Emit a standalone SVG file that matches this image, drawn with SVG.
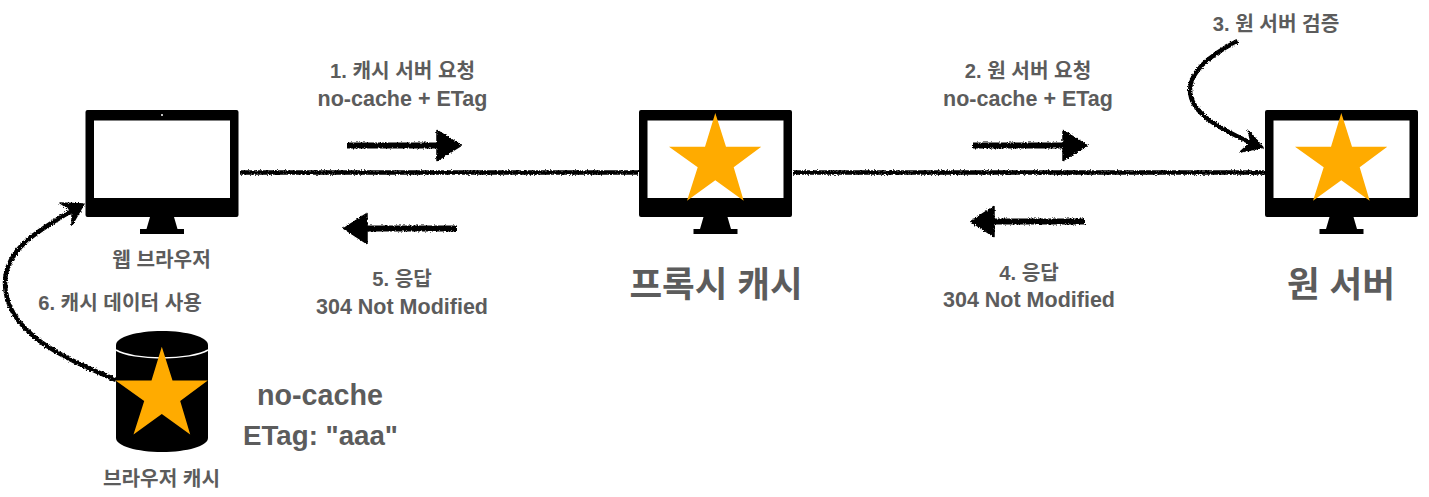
<svg xmlns="http://www.w3.org/2000/svg" width="1429" height="497" viewBox="0 0 1429 497">
<style>
text{font-family:"Liberation Sans","Noto Sans CJK KR",sans-serif;font-weight:700;fill:#5c5c5c;text-anchor:middle}
.s{font-size:20.200px}.m{font-size:21.500px}.l{font-size:28.700px}.xl{font-size:35.500px}
.ln{fill:none;stroke:#000;stroke-width:4.500}
.ar{fill:none;stroke:#000;stroke-width:6}
.cv{fill:none;stroke:#000;stroke-width:4.500}
.hd{fill:#000;stroke:#000;stroke-width:1.500;stroke-linejoin:round}
.st{fill:#ffab00}
</style>
<defs>
<filter id="roughU" filterUnits="userSpaceOnUse" x="0" y="0" width="1429" height="497">
<feTurbulence type="fractalNoise" baseFrequency="0.7" numOctaves="2" seed="3"/>
<feDisplacementMap in="SourceGraphic" scale="3.500" xChannelSelector="R" yChannelSelector="G"/>
</filter>
<g id="monitor">
<path d="M85.500 112a2 2 0 0 1 2-2h149a2 2 0 0 1 2 2v103a2 2 0 0 1-2 2h-149a2 2 0 0 1-2-2zM94 120.500V198H230V120.500z" fill="#000" fill-rule="evenodd"/>
<path d="M150 217h24l3.500 12H184v5H140v-5h6.500z" fill="#000"/>
</g>
<polygon id="star" class="st" points="715.300,113 726,146.700 761.300,146.700 733.700,167.300 743.700,200.700 715.300,180.300 687,200.700 697.700,167.300 669,146.700 705,146.700"/>
</defs>
<g id="connectors" filter="url(#roughU)">
<path class="ln" d="M240 172.500H639"/>
<path class="ln" d="M793 172.500H1265"/>
<path class="ar" d="M347 145.500H440"/><polygon class="hd" points="437,130.500 461,145.500 437,160.500"/>
<path class="ar" d="M457 228.500H364"/><polygon class="hd" points="367,213.500 344,228.500 367,243.500"/>
<path class="ar" d="M973 145.500H1066"/><polygon class="hd" points="1063,130.500 1087,145.500 1063,160.500"/>
<path class="ar" d="M1085 221.500H992"/><polygon class="hd" points="994,206.500 971,221.500 994,236.500"/>
<path class="cv" d="M1237.500 41C1208 56 1190 72 1190 90C1190 114 1222 130 1258 146"/><polygon class="hd" points="1263,147.500 1248,130 1251,142 1240,152"/>
<path class="cv" d="M116 380C70 360 5 335 5 283C5 250 35 232 78 207"/><polygon class="hd" points="84,204 60,203 72,211 72,225"/>
</g>
<g id="browser">
<use href="#monitor"/><circle cx="162" cy="115" r="1" fill="#fff"/>
<text class="s" x="161.500" y="267">웹 브라우저</text>
</g>
<g id="proxy">
<use href="#monitor" x="553.500"/><use href="#star"/>
<text class="xl" x="716" y="297">프록시 캐시</text>
</g>
<g id="origin">
<use href="#monitor" x="1179.500"/><use href="#star" x="626"/>
<text class="xl" x="1341" y="297">원 서버</text>
</g>
<g id="browser-cache">
<path d="M116 345C116 337 137 331 162 331S208 337 208 345V438C208 446 187 452 162 452S116 446 116 438Z" fill="#000"/>
<path d="M116 350C124 355 143 358 162 358S200 355 208 350" fill="none" stroke="#fff" stroke-width="1.500"/>
<use href="#star" x="-553.500" y="233.700"/>
<text class="s" x="161.500" y="486">브라우저 캐시</text>
</g>
<g id="labels">
<text class="s" x="402.500" y="77.500">1. 캐시 서버 요청</text>
<text class="m" x="402.500" y="106">no-cache + ETag</text>
<text class="s" x="1028" y="77.500">2. 원 서버 요청</text>
<text class="m" x="1028" y="106">no-cache + ETag</text>
<text class="s" x="1276" y="31">3. 원 서버 검증</text>
<text class="s" x="1029" y="280">4. 응답</text>
<text class="m" x="1029" y="307">304 Not Modified</text>
<text class="s" x="402" y="286">5. 응답</text>
<text class="m" x="402" y="314">304 Not Modified</text>
<text class="s" x="120" y="310">6. 캐시 데이터 사용</text>
<text class="l" x="320" y="404.500">no-cache</text>
<text x="320.500" y="444.500" style="font-size:27.700px">ETag: "aaa"</text>
</g>
</svg>
